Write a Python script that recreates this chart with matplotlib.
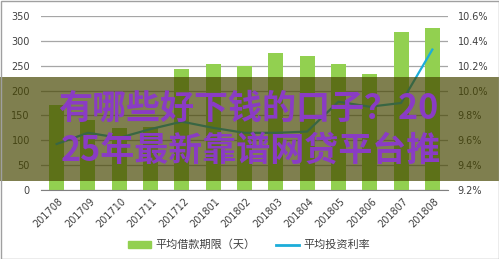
import matplotlib
matplotlib.use('Agg')
import matplotlib.pyplot as plt
import matplotlib.transforms as mtrans
from matplotlib.patches import Rectangle, Patch
from matplotlib.lines import Line2D
from matplotlib.ticker import FuncFormatter, MultipleLocator

plt.rcParams['font.family'] = ['DejaVu Sans', 'Noto Sans CJK SC']

months = ['201708', '201709', '201710', '201711', '201712', '201801', '201802',
          '201803', '201804', '201805', '201806', '201807', '201808']
avg_term = [170, 141, 125, 127, 243, 253, 250, 276, 269, 253, 233, 318, 326]
avg_rate = [9.57, 9.66, 9.62, 9.69, 9.75, 9.70, 9.66, 9.66, 9.67, 9.91, 9.87, 9.90, 10.33]

term_label = '平均借款期限（天）'
rate_label = '平均投资利率'
banner_1 = '有哪些好下钱的口子？20'
banner_2 = '25年最新靠谱网贷平台推'

BAR = '#92d050'
LINE = '#1cadd9'
TXT = '#404040'
W, H = 499, 259

fig = plt.figure(figsize=(W / 100, H / 100), dpi=100)
ax = fig.add_axes([41 / W, 1 - 190 / H, (448 - 41) / W, (190 - 16) / H])
x = list(range(len(months)))

ax.bar(x, avg_term, width=0.48, color=BAR, zorder=2)
ax.set_xlim(-0.5, len(months) - 0.5)
ax.set_ylim(0, 350)
ax.yaxis.set_major_locator(MultipleLocator(50))
ax.grid(axis='y', color='#a6a6a6', linewidth=0.9, zorder=0)
for s in ['top', 'left', 'right']:
    ax.spines[s].set_visible(False)
ax.spines['bottom'].set_color('#808080')
ax.tick_params(axis='y', length=0, labelsize=7, colors=TXT, pad=8)
ax.tick_params(axis='x', length=0, labelsize=7, colors=TXT, pad=7)
ax.set_xticks(x)
ax.set_xticklabels(months, rotation=45, ha='right', va='center', rotation_mode='anchor')
shift = mtrans.ScaledTranslation(5 / 100, 0, fig.dpi_scale_trans)
for lab in ax.get_xticklabels():
    lab.set_transform(lab.get_transform() + shift)

ax2 = ax.twinx()
ax2.plot(x, avg_rate, color=LINE, linewidth=1.6, zorder=3)
ax2.set_ylim(9.2, 10.6)
ax2.yaxis.set_major_locator(MultipleLocator(0.2))
ax2.yaxis.set_major_formatter(FuncFormatter(lambda v, p: f'{v:.1f}%'))
for s in ax2.spines.values():
    s.set_visible(False)
ax2.tick_params(axis='y', length=0, labelsize=7, colors=TXT, pad=7)

handles = [Patch(color=BAR), Line2D([], [], color=LINE, linewidth=2)]
fig.legend(handles, [term_label, rate_label], ncol=2, loc='center',
           bbox_to_anchor=(249 / W, 1 - 245 / H), frameon=False,
           prop={'family': 'Noto Sans CJK SC', 'size': 8},
           labelcolor=TXT, handlelength=2.1, handleheight=0.6,
           columnspacing=1.8, handletextpad=0.4)

# semi-transparent banner laid over the chart
fig.patches.append(Rectangle((0, 1 - 181 / H), 1, 104 / H, transform=fig.transFigure,
                             facecolor='#464600', alpha=0.69, edgecolor='none', zorder=5))
fig.text(58 / W, 1 - 108 / H, banner_1, fontsize=24.5, fontweight='bold',
         family='Noto Sans CJK SC', color='#8a3cc4', va='center', ha='left', zorder=6)
fig.text(61 / W, 1 - 150 / H, banner_2, fontsize=24.5, fontweight='bold',
         family='Noto Sans CJK SC', color='#8a3cc4', va='center', ha='left', zorder=6)

fig.patches.append(Rectangle((0.5 / W, 0.5 / H), 1 - 1 / W, 1 - 1 / H, transform=fig.transFigure,
                             facecolor='none', edgecolor='#a0a0a0', linewidth=1, zorder=7))

fig.savefig('out.png', dpi=100)
